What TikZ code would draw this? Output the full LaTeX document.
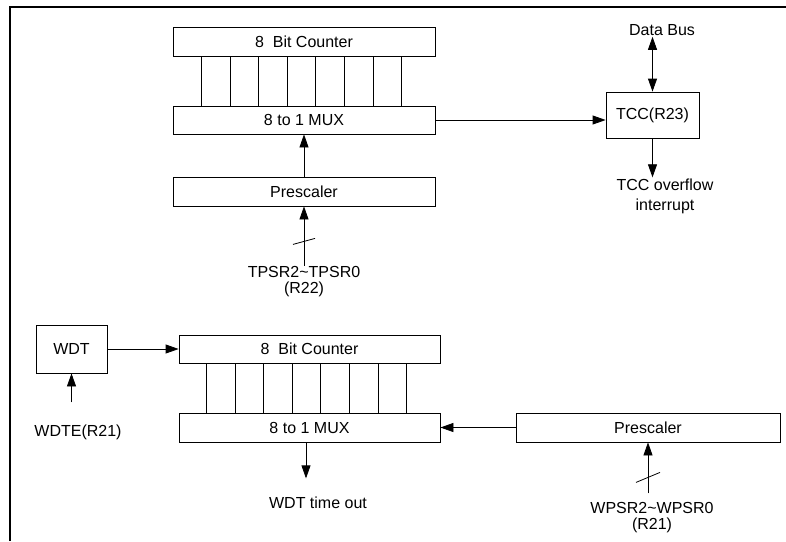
\documentclass[tikz,border=0pt]{standalone}
\usepackage{fontspec}
\setmainfont{Liberation Sans}
\usetikzlibrary{arrows.meta}

\begin{document}
\begin{tikzpicture}[x=1pt, y=-1pt,
  font=\fontsize{16}{16}\selectfont,
  blk/.style={draw, line width=0.8pt, inner sep=0pt, minimum height=29pt},
  lbl/.style={inner sep=1pt, align=center},
  arr/.style={-{Triangle[length=13pt,width=9pt]}, line width=0.8pt},
  wire/.style={line width=0.8pt}]
  \useasboundingbox (0,0) rectangle (786,541);
  % frame (top and left edge only)
  \draw[line width=2.5pt] (10,541) -- (10,7) -- (786,7);

  % TCC part
  \node[blk, minimum width=262pt] (cnt1) at (304,41.5) {8\ \ Bit Counter};
  \node[blk, minimum width=262pt, minimum height=28pt] (mux1) at (304,120) {8 to 1 MUX};
  \node[blk, minimum width=262pt] (pre1) at (304,191.5) {Prescaler};
  \node[blk, minimum width=93pt, minimum height=46pt] (tcc) at (652.5,115) {TCC(R23)};
  \node[lbl] (dbus) at (662,30) {Data Bus};
  \node[lbl, font=\fontsize{16}{20}\selectfont] (ovf) at (665,196) {TCC overflow\\interrupt};
  \node[lbl] (tpsr) at (304,282) {TPSR2\textasciitilde TPSR0\\(R22)};

  \foreach \i in {0,...,7} {
    \path (cnt1.south west) ++(29+\i*28.57,0) coordinate (t\i);
    \draw[wire] (t\i) -- (t\i |- mux1.north);
  }
  \draw[arr] (pre1) -- (mux1);
  \draw[arr] (mux1.east) -- (mux1.east -| tcc.west);
  \draw[wire, {Triangle[length=13pt,width=9pt]}-{Triangle[length=13pt,width=9pt]}]
    (tcc.north |- dbus.south) -- (tcc.north);
  \draw[arr] (tcc.south) -- (tcc.south |- ovf.north);
  \draw[arr] (tpsr.north) -- (pre1.south);
  \path (pre1.south) ++(0,35) coordinate (s1);
  \draw[wire] (s1) ++(-11,3) -- ++(22,-6);

  % WDT part
  \node[blk, minimum width=71pt, minimum height=48pt] (wdt) at (71.5,349) {WDT};
  \node[blk, minimum width=261pt, minimum height=28pt] (cnt2) at (309.5,349) {8\ \ Bit Counter};
  \node[blk, minimum width=261pt] (mux2) at (309.5,427.5) {8 to 1 MUX};
  \node[blk, minimum width=264pt] (pre2) at (648,427.5) {Prescaler};
  \node[lbl] (wdte) at (78,432) {WDTE(R21)};
  \node[lbl] (tout) at (318,503) {WDT time out};
  \node[lbl] (wpsr) at (652,518) {WPSR2\textasciitilde WPSR0\\(R21)};

  \foreach \i in {0,...,7} {
    \path (cnt2.south west) ++(28+\i*28.57,0) coordinate (b\i);
    \draw[wire] (b\i) -- (b\i |- mux2.north);
  }
  \draw[arr] (wdt.east) -- (wdt.east -| cnt2.west);
  \draw[arr] ([yshift=-29pt]wdt.south) -- (wdt.south);
  \draw[arr] (pre2.west) -- (mux2.east);
  \draw[arr] ([xshift=-3.5pt]mux2.south) -- ++(0,36) coordinate (wout);
  \draw[arr] ([yshift=-51pt]pre2.south) coordinate (win) -- (pre2.south);
  \path (pre2.south) ++(0,35) coordinate (s2);
  \draw[wire] (s2) ++(-12,5) -- ++(24,-10);
\end{tikzpicture}
\end{document}
